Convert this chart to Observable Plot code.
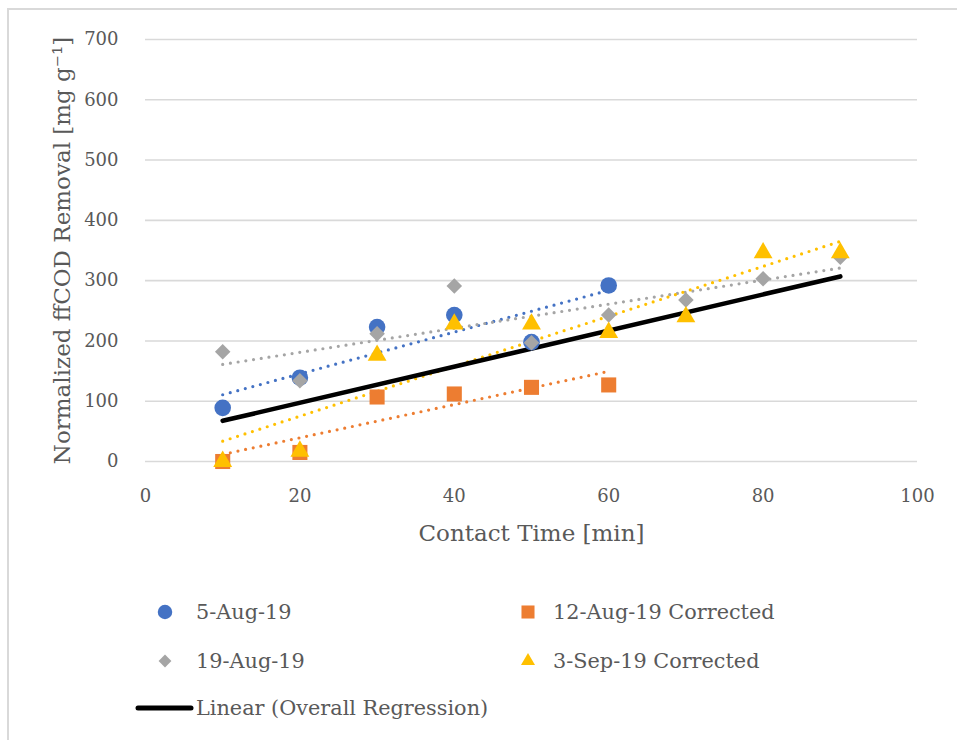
<!DOCTYPE html>
<html>
<head>
<meta charset="utf-8">
<script src="https://cdn.jsdelivr.net/npm/d3@7"></script>
<script src="https://cdn.jsdelivr.net/npm/@observablehq/plot@0.6"></script>
<style>
  html, body { margin: 0; padding: 0; background: #fff; }
  #wrap { position: relative; width: 957px; height: 740px; overflow: hidden; font-family: "DejaVu Serif", serif; }
  #frame { position: absolute; left: 7px; top: 8px; width: 1000px; height: 800px; border-left: 2px solid #d9d9d9; border-top: 2px solid #d9d9d9; }
  #chart { position: absolute; left: 0; top: 0; }
  .leg { position: absolute; display: flex; align-items: center; color: #595959; font-size: 20.8px; white-space: nowrap; }
  .leg svg { display: block; }
</style>
</head>
<body>
<div id="wrap">
  <div id="frame"></div>
  <div id="chart"></div>
  <div id="legend"></div>
</div>
<script>
// ---- data ----
const timesA = [10, 20, 30, 40, 50, 60];            // 5-Aug-19, 12-Aug-19
const timesB = [10, 20, 30, 40, 50, 60, 70, 80, 90]; // 19-Aug-19, 3-Sep-19
const aug5 = [89, 139, 223, 243, 198, 292];
const aug12 = [0, 15, 107, 112, 123, 127];
const aug19 = [182, 134, 212, 291, 197, 243, 268, 303, 339];
const sep3 = [0, 17, 176, 228, 228, 214, 240, 346, 346];
// overall regression line (endpoints)
const overallTimes = [10, 90];
const overallValues = [67.5, 307];

const seriesNames = ["5-Aug-19", "12-Aug-19 Corrected", "19-Aug-19", "3-Sep-19 Corrected"];
const seriesColors = ["#4472C4", "#ED7D31", "#A5A5A5", "#FFC000"];
const seriesSymbols = ["circle", "square", "diamond2", "triangle"];
const overallLabel = "Linear (Overall Regression)";
const xTicks = [0, 20, 40, 60, 80, 100];
const yTicks = [0, 100, 200, 300, 400, 500, 600, 700];
const xTitle = "Contact Time [min]";
const yTitle = "Normalized ffCOD Removal [mg g⁻¹]";

const mk = (ts, vs, s) => ts.map((t, i) => ({time: t, value: vs[i], series: s}));
const sets = [
  mk(timesA, aug5, seriesNames[0]),
  mk(timesA, aug12, seriesNames[1]),
  mk(timesB, aug19, seriesNames[2]),
  mk(timesB, sep3, seriesNames[3])
];
const overall = overallTimes.map((t, i) => ({time: t, value: overallValues[i]}));
const radii = [8.3, 8.5, 7, 7];

const marks = [
  Plot.gridY(yTicks, {stroke: "#d9d9d9", strokeOpacity: 1, strokeWidth: 1.6}),
  Plot.axisX({ticks: xTicks, tickSize: 0, tickPadding: 28, fontSize: 18, color: "#595959", label: null}),
  Plot.axisY({ticks: yTicks, tickSize: 0, tickPadding: 27, fontSize: 18, color: "#595959", label: null}),
];
// dotted trend lines (linear fits of each series, drawn under markers)
sets.forEach((d, i) => {
  marks.push(Plot.linearRegressionY(d, {x: "time", y: "value", ci: 0, stroke: seriesColors[i],
    strokeWidth: 3.2, strokeDasharray: "0,7.8", strokeLinecap: "round"}));
});
marks.push(Plot.line(overall, {x: "time", y: "value", stroke: "#000", strokeWidth: 4.6, strokeLinecap: "round"}));
sets.forEach((d, i) => {
  marks.push(Plot.dot(d, {x: "time", y: "value", symbol: () => seriesSymbols[i], fill: seriesColors[i], r: radii[i], stroke: "none"}));
});
marks.push(Plot.text([xTitle], {text: d => d, frameAnchor: "bottom", dy: 79, fontSize: 23, fill: "#595959"}));
marks.push(Plot.text([yTitle], {text: d => d, frameAnchor: "left", textAnchor: "middle", dx: -83, rotate: -90, fontSize: 23, fill: "#595959"}));

const chart = Plot.plot({
  width: 957,
  height: 561,
  marginLeft: 145,
  marginRight: 40,
  marginTop: 39,
  marginBottom: 100,
  x: {domain: [0, 100]},
  y: {domain: [0, 700]},
  style: {fontFamily: "DejaVu Serif", background: "transparent", overflow: "visible"},
  marks
});
document.getElementById("chart").appendChild(chart);

// ---- legend ----
const legend = document.getElementById("legend");
const legItems = [
  {i: 0, x: 165, y: 612, tx: 196},
  {i: 1, x: 528, y: 612, tx: 553},
  {i: 2, x: 165, y: 661, tx: 196},
  {i: 3, x: 528, y: 661, tx: 553}
];
const legSym = {circle: d3.symbolCircle, square: d3.symbolSquare, diamond2: d3.symbolDiamond2, triangle: d3.symbolTriangle};
const legSize = [165, 170, 105, 85];
legItems.forEach(it => {
  const g = document.createElementNS("http://www.w3.org/2000/svg", "svg");
  g.setAttribute("width", 24); g.setAttribute("height", 24);
  g.style.position = "absolute"; g.style.left = (it.x - 12) + "px"; g.style.top = (it.y - 12) + "px";
  const p = document.createElementNS("http://www.w3.org/2000/svg", "path");
  p.setAttribute("d", d3.symbol(legSym[seriesSymbols[it.i]], legSize[it.i])());
  p.setAttribute("transform", "translate(12,12)");
  p.setAttribute("fill", seriesColors[it.i]);
  g.appendChild(p);
  legend.appendChild(g);
  const t = document.createElement("div");
  t.className = "leg";
  t.style.left = it.tx + "px"; t.style.top = (it.y - 15) + "px"; t.style.height = "30px";
  t.textContent = seriesNames[it.i];
  legend.appendChild(t);
});
{
  const g = document.createElementNS("http://www.w3.org/2000/svg", "svg");
  g.setAttribute("width", 64); g.setAttribute("height", 12);
  g.style.position = "absolute"; g.style.left = "132px"; g.style.top = "702px";
  const l = document.createElementNS("http://www.w3.org/2000/svg", "line");
  l.setAttribute("x1", 6); l.setAttribute("x2", 59); l.setAttribute("y1", 6); l.setAttribute("y2", 6);
  l.setAttribute("stroke", "#000"); l.setAttribute("stroke-width", 5); l.setAttribute("stroke-linecap", "round");
  g.appendChild(l);
  legend.appendChild(g);
  const t = document.createElement("div");
  t.className = "leg";
  t.style.left = "196px"; t.style.top = "693px"; t.style.height = "30px";
  t.textContent = overallLabel;
  legend.appendChild(t);
}
</script>
</body>
</html>
